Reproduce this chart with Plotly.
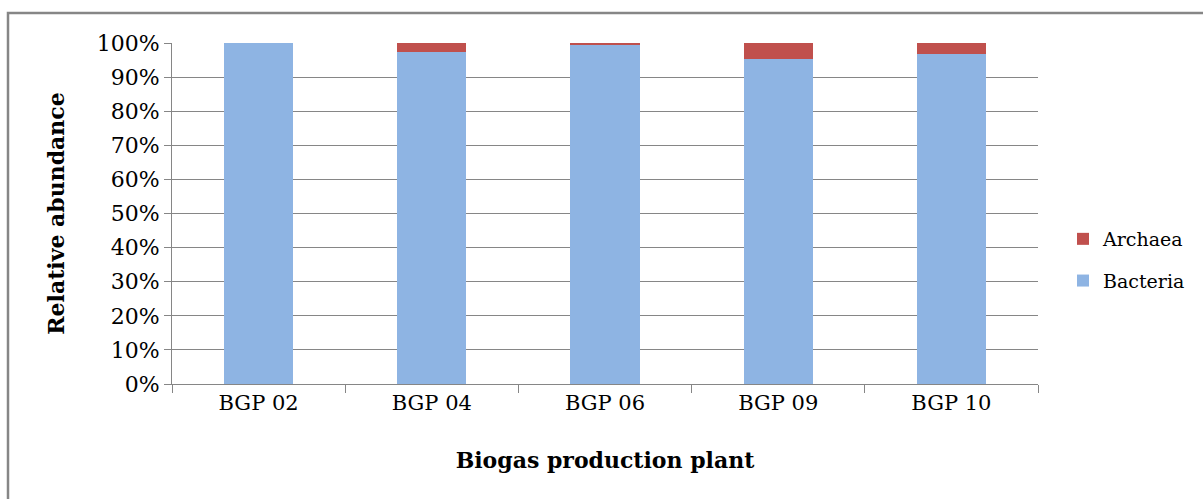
import plotly.graph_objects as go

plants = ["BGP 02", "BGP 04", "BGP 06", "BGP 09", "BGP 10"]
archaea = [0.0, 2.6, 0.5, 4.6, 3.1]
bacteria = [100 - a for a in archaea]
y_ticks = [0, 10, 20, 30, 40, 50, 60, 70, 80, 90, 100]
y_tick_labels = [f"{v}%" for v in y_ticks]

FONT = "DejaVu Serif"
GRAY = "#868686"

fig = go.Figure()
fig.add_trace(go.Bar(x=plants, y=bacteria, name="Bacteria", marker_color="#8EB4E3",
                     marker_line_width=0, legendgroup="b", legendrank=2))
fig.add_trace(go.Bar(x=plants, y=archaea, name="Archaea", marker_color="#C0504D",
                     marker_line_width=0, legendgroup="a", legendrank=1))

L, R, T, B = 172, 165, 43, 115
W, H = 1203, 499
pw, ph = W - L - R, H - T - B

def px_x(p):
    return (p - L) / pw

def px_y(p):
    return (H - B - p) / ph

fig.add_shape(type="rect", xref="paper", yref="paper",
              x0=px_x(8), x1=px_x(1215), y0=px_y(13), y1=px_y(520),
              line=dict(color=GRAY, width=2.5), fillcolor="rgba(0,0,0,0)", layer="below")

fig.update_layout(
    width=W, height=H,
    margin=dict(l=L, r=R, t=T, b=B, autoexpand=False),
    barmode="stack",
    bargap=0.6,
    plot_bgcolor="white", paper_bgcolor="white",
    font=dict(family=FONT, size=20, color="#000000"),
    legend=dict(xref="container", yref="container",
                x=1063 / W, y=1 - 260 / H, xanchor="left", yanchor="middle",
                traceorder="grouped", tracegroupgap=14,
                font=dict(family=FONT, size=19), bgcolor="rgba(0,0,0,0)"),
    xaxis=dict(
        automargin=False,
        title=dict(text="<b>Biogas production plant</b>", font=dict(family=FONT, size=22), standoff=38),
        tickson="boundaries", ticks="outside", ticklen=8, tickcolor=GRAY,
        showline=True, linecolor=GRAY, linewidth=1,
        tickfont=dict(family=FONT, size=21),
    ),
    yaxis=dict(
        automargin=False,
        title=dict(text="<b>Relative abundance</b>", font=dict(family=FONT, size=22), standoff=25),
        range=[0, 100], tickvals=y_ticks, ticktext=y_tick_labels,
        ticks="outside", ticklen=7, tickcolor=GRAY,
        showgrid=True, gridcolor=GRAY, gridwidth=1,
        showline=True, linecolor=GRAY, linewidth=1,
        zeroline=False,
        tickfont=dict(family=FONT, size=22),
    ),
)

fig.write_html("out.html", config={"displayModeBar": False},
               post_script="document.body.style.margin='0px';")
